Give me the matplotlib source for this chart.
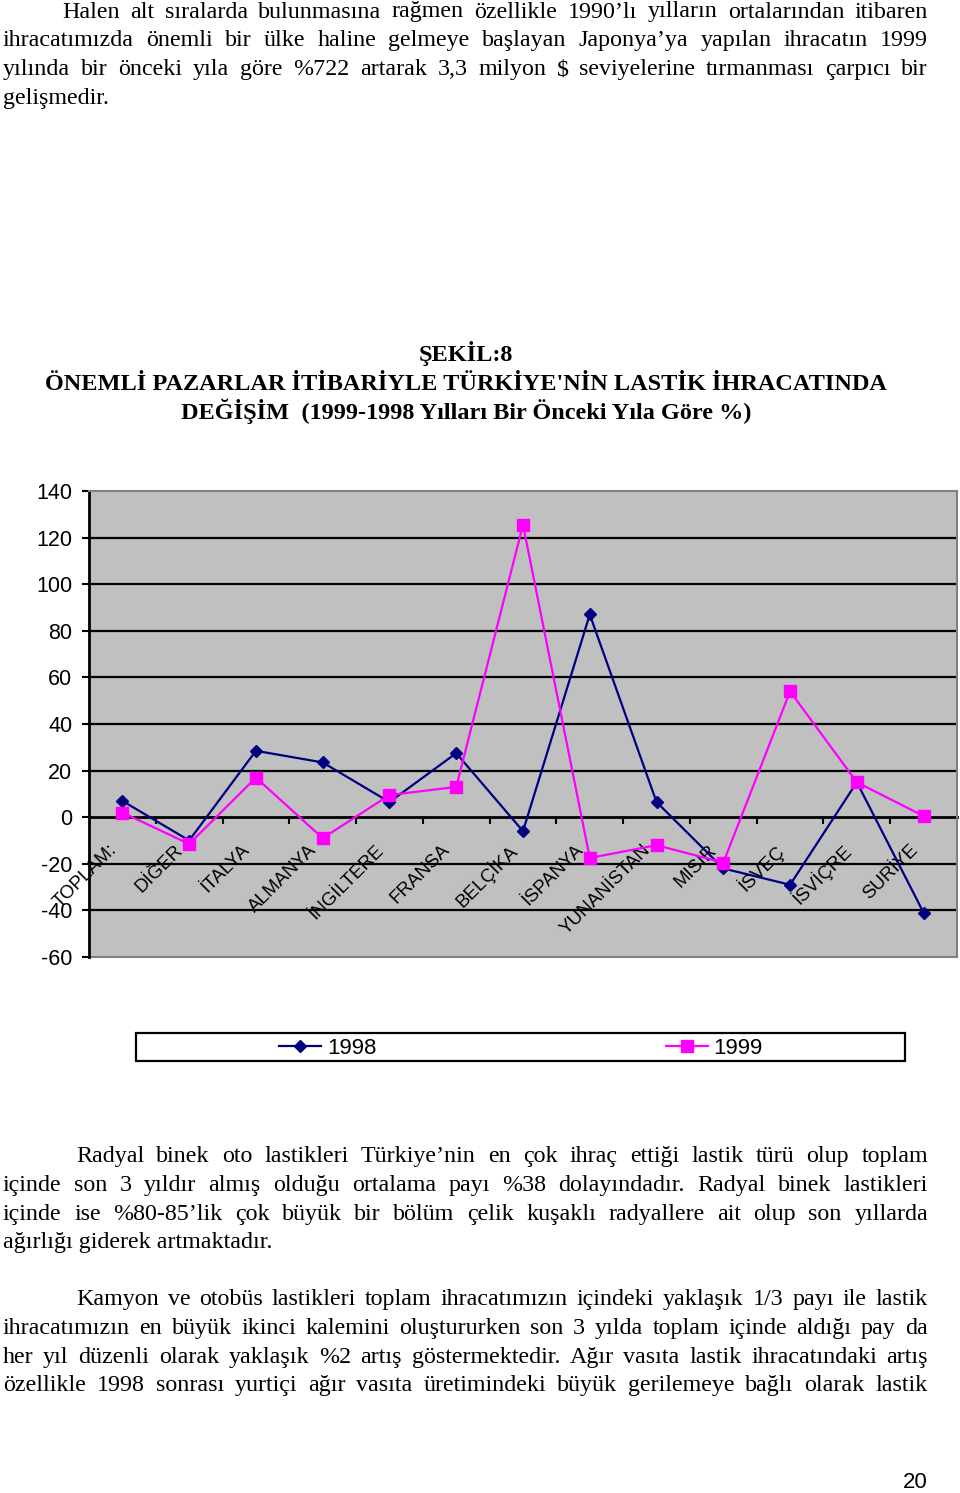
import matplotlib
matplotlib.use("Agg")
import matplotlib.pyplot as plt
from matplotlib.patches import Rectangle

# Page size in pixels (dpi 100)
W, H = 960, 1493

# Chart data
categories = ["TOPLAM:", "DİĞER", "İTALYA", "ALMANYA", "İNGİLTERE", "FRANSA", "BELÇİKA",
              "İSPANYA", "YUNANİSTAN", "MISIR", "İSVEÇ", "İSVİÇRE", "SURİYE"]
y1998 = [7, -10, 28.5, 23.5, 6.5, 27.5, -6, 87, 6.5, -22, -29, 15, -41]
y1999 = [2, -11.5, 17, -9, 9.5, 13, 125.5, -17.5, -12, -19.5, 54, 15, 0.5]
yticks = [-60, -40, -20, 0, 20, 40, 60, 80, 100, 120, 140]
series_names = ["1998", "1999"]

title_lines = ["ŞEKİL:8",
               "ÖNEMLİ PAZARLAR İTİBARİYLE TÜRKİYE'NİN LASTİK İHRACATINDA",
               "DEĞİŞİM  (1999-1998 Yılları Bir Önceki Yıla Göre %)"]

para1 = ["Halen alt sıralarda bulunmasına rağmen özellikle 1990’lı yılların ortalarından itibaren",
         "ihracatımızda önemli bir ülke haline gelmeye başlayan Japonya’ya yapılan ihracatın 1999",
         "yılında bir önceki yıla göre %722 artarak 3,3 milyon $ seviyelerine tırmanması çarpıcı bir",
         "gelişmedir."]
para2 = ["Radyal binek oto lastikleri Türkiye’nin en çok  ihraç ettiği lastik türü olup toplam",
         "içinde son 3 yıldır almış olduğu ortalama payı %38 dolayındadır. Radyal binek lastikleri",
         "içinde ise %80-85’lik çok büyük bir bölüm çelik kuşaklı radyallere ait olup son yıllarda",
         "ağırlığı giderek artmaktadır."]
para3 = ["Kamyon ve otobüs lastikleri toplam ihracatımızın içindeki yaklaşık 1/3 payı ile lastik",
         "ihracatımızın en büyük ikinci kalemini oluştururken son 3 yılda toplam içinde aldığı pay da",
         "her yıl düzenli olarak yaklaşık %2 artış göstermektedir. Ağır vasıta lastik ihracatındaki artış",
         "özellikle 1998 sonrası yurtiçi ağır vasıta üretimindeki büyük gerilemeye bağlı olarak lastik"]

fig = plt.figure(figsize=(W / 100, H / 100), dpi=100)
renderer = fig.canvas.get_renderer()


def fx(x):
    return x / W


def fy(y):
    return 1 - y / H


SERIF = dict(family="Liberation Serif", size=17.3, color="black")


def justified(line, x0, x1, y):
    words = line.split()
    texts = [fig.text(0, fy(y), w, va="baseline", **SERIF) for w in words]
    widths = [t.get_window_extent(renderer).width for t in texts]
    gap = (x1 - x0 - sum(widths)) / (len(words) - 1)
    x = x0
    for t, w in zip(texts, widths):
        t.set_x(fx(x))
        x += w + gap


def paragraph(lines, y0, indent, last_full=False):
    for i, line in enumerate(lines):
        y = y0 + i * 28.8
        x0 = indent if i == 0 else 3
        if i == len(lines) - 1 and not last_full:
            fig.text(fx(x0), fy(y), line, va="baseline", **SERIF)
        else:
            justified(line, x0, 928, y)


paragraph(para1, 17.5, 62)
paragraph(para2, 1162, 76)
paragraph(para3, 1305, 76, last_full=True)

# Title
for i, t in enumerate(title_lines):
    fig.text(fx(466), fy(361 + i * 29), t, ha="center", va="baseline",
             family="Liberation Serif", weight="bold", size=17.5)

# Chart
ax = fig.add_axes([fx(89), fy(957), (957 - 89) / W, (957 - 491) / H])
ax.set_facecolor("#C0C0C0")
x = list(range(len(categories)))

for v in yticks[1:-1]:
    if v != 0:
        ax.axhline(v, color="black", lw=1.6, zorder=1)
ax.axhline(-60, color="#808080", lw=1.5, zorder=1, clip_on=False)

l98, = ax.plot(x, y1998, color="#000080", lw=1.6, marker="D", ms=6.5,
               markerfacecolor="#000080", markeredgecolor="#000080", zorder=3,
               clip_on=False, label=series_names[0])
l99, = ax.plot(x, y1999, color="#FF00FF", lw=1.6, marker="s", ms=8,
               markerfacecolor="#FF00FF", markeredgecolor="#FF00FF", zorder=4,
               clip_on=False, label=series_names[1])

ax.set_xlim(-0.5, len(categories) - 0.5)
ax.set_ylim(-60, 140)
ax.set_yticks(yticks)
ax.set_yticklabels([str(v) for v in yticks], family="Liberation Sans", fontsize=15.5)
ax.tick_params(axis="y", direction="out", length=5, width=1.5, pad=7, color="black")

ax.spines["bottom"].set_position(("data", 0))
ax.spines["bottom"].set_color("black")
ax.spines["bottom"].set_linewidth(2)
ax.spines["bottom"].set_zorder(2)
ax.spines["left"].set_color("black")
ax.spines["left"].set_linewidth(2)
for s in ["top", "right"]:
    ax.spines[s].set_color("#808080")
    ax.spines[s].set_linewidth(1.5)

ax.set_xticks([])
ax.set_xticks([i + 0.5 for i in range(len(categories) - 1)], minor=True)
ax.tick_params(axis="x", which="minor", direction="out", length=5, width=1.5, color="black")

for i, c in enumerate(categories):
    ax.text(i - 0.13, -13, c, rotation=45, rotation_mode="anchor", ha="right", va="center",
            family="Liberation Sans", fontsize=13.5, zorder=2)

# Legend
fig.add_artist(Rectangle((fx(136), fy(1061)), (905 - 136) / W, 28 / H,
                         transform=fig.transFigure, fill=False, lw=1.6, ec="black"))
leg = fig.legend(handles=[l98, l99], loc="center", bbox_to_anchor=(fx(521), fy(1048)),
                 ncol=2, frameon=False, prop=dict(family="Liberation Sans", size=16),
                 handlelength=1.9, handletextpad=0.27, columnspacing=13)

fig.text(fx(915), fy(1488), "20", ha="center", va="baseline",
         family="Liberation Sans", fontsize=16)

fig.savefig("out.png", dpi=100, facecolor="white")
